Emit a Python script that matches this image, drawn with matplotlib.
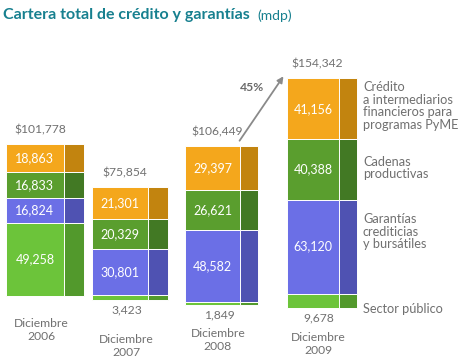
import numpy as np
import matplotlib.pyplot as plt

# Datos (millones de pesos)
anios = ['Diciembre\n2006', 'Diciembre\n2007', 'Diciembre\n2008', 'Diciembre\n2009']
sector_publico = [49258, 3423, 1849, 9678]
garantias = [16824, 30801, 48582, 63120]
cadenas = [16833, 20329, 26621, 40388]
credito = [18863, 21301, 29397, 41156]
nombres = ['Sector público', 'Garantías\ncrediticias\ny bursátiles',
           'Cadenas\nproductivas', 'Crédito\na intermediarios\nfinancieros para\nprogramas PyME']
crecimiento = '45%'

series = [sector_publico, garantias, cadenas, credito]
frentes = ['#6CC43A', '#6B6FE6', '#5A9E2E', '#F4A71C']
lados = ['#52992C', '#4F52B2', '#427924', '#C2840F']

# Disposición en pixeles (la imagen mide 460x363)
centros = [45, 130, 222, 322]
anchos = [78, 76, 73, 70]
bases = [296, 300, 305, 308]
y_anio = [330, 346, 340, 344]
y_leyenda = [309, 232, 168, 106]
k = 1.49 / 1000  # pixeles por mdp

gris = '#707070'
fuente = 'Lato'

fig = plt.figure(figsize=(4.6, 3.63), dpi=100)
ax = fig.add_axes([0, 0, 1, 1])
ax.set_xlim(0, 460)
ax.set_ylim(0, 363 / k)
ax.axis('off')


def py(p):
    # pixel desde arriba -> coordenada de datos
    return (363 - p) / k


for i in range(len(anios)):
    izq = centros[i] - anchos[i] / 2
    w_frente = anchos[i] * 0.74
    abajo = py(bases[i])
    for j, s in enumerate(series):
        v = s[i]
        ax.bar(izq, v, width=anchos[i], bottom=abajo, align='edge',
               color=lados[j], edgecolor='white', linewidth=0.7)
        ax.bar(izq, v, width=w_frente, bottom=abajo, align='edge',
               color=frentes[j], edgecolor='white', linewidth=0.7)
        if v * k >= 18:
            ax.text(izq + w_frente / 2, abajo + v / 2, f'{v:,}', color='white',
                    fontsize=9, ha='center', va='center', family=fuente)
        else:
            ax.text(centros[i] - 3, py(bases[i] + 10), f'{v:,}', color=gris,
                    fontsize=8.7, ha='center', va='center', family=fuente)
        abajo += v
    total = sum(s[i] for s in series)
    ax.text(centros[i] - 5, abajo + 9 / k, f'${total:,}', color=gris, fontsize=8.7,
            ha='center', va='bottom', family=fuente)
    ax.text(centros[i] - 4, py(y_anio[i]), anios[i], color=gris, fontsize=8.7,
            ha='center', va='center', family=fuente, linespacing=1.15)

# leyenda a la derecha
for j, n in enumerate(nombres):
    ax.text(363, py(y_leyenda[j]), n, color=gris, fontsize=9.2, ha='left',
            va='center', family=fuente, linespacing=1.05)

# flecha de crecimiento
ax.annotate('', xy=(285, py(74)), xytext=(238, py(143)),
            arrowprops=dict(arrowstyle='-|>', color='#8A8A8A', lw=1.3,
                            mutation_scale=9))
ax.text(252, py(88), crecimiento, color='#6A6A6A', fontsize=8.7,
        fontweight='bold', ha='center', va='center', family=fuente)

# titulo
fig.text(0.007, 0.96, 'Cartera total de crédito y garantías', color='#17808F',
         fontsize=11.5, fontweight='bold', ha='left', va='center', family=fuente)
fig.text(0.56, 0.958, '(mdp)', color='#17808F', fontsize=10, ha='left',
         va='center', family=fuente)

fig.savefig('out.png', dpi=100)
